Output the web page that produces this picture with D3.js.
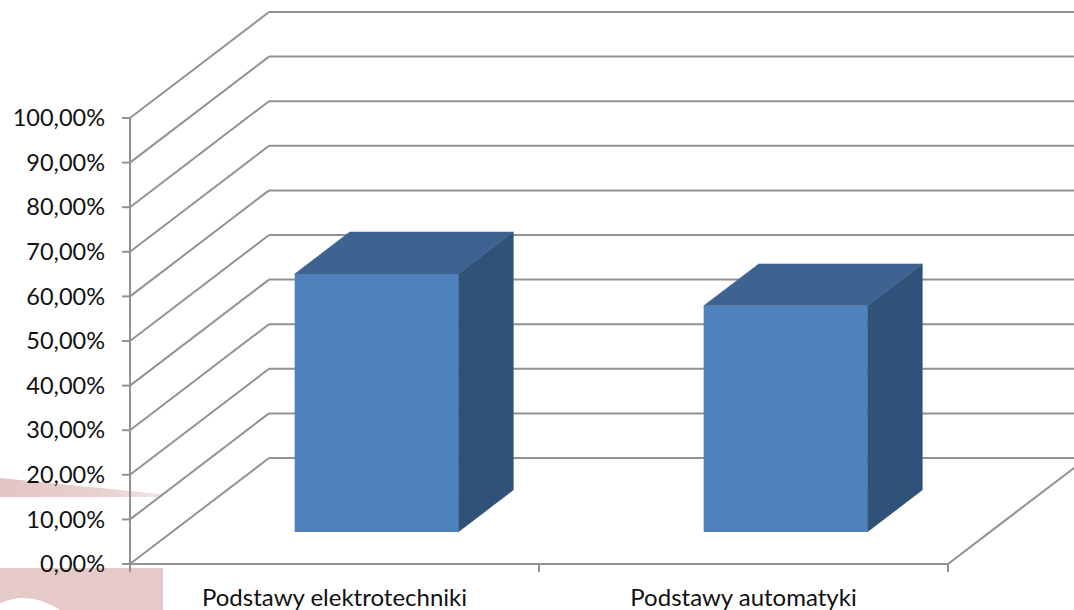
<!DOCTYPE html>
<html><head><meta charset="utf-8">
<script src="https://cdn.jsdelivr.net/npm/d3@7"></script>
<style>html,body{margin:0;background:#fff;overflow:hidden}svg{display:block}text{font-family:Lato,"Open Sans",sans-serif;fill:#111}</style>
</head><body><svg id="c" width="1074" height="610"></svg>
<script>
const categories = ["Podstawy elektrotechniki", "Podstawy automatyki"];
const values = [57.85, 50.7];
const yTicks = [0,10,20,30,40,50,60,70,80,90,100];
const yTickLabels = ["0,00%","10,00%","20,00%","30,00%","40,00%","50,00%","60,00%","70,00%","80,00%","90,00%","100,00%"];

const svg = d3.select("#c");
const grid = "#929292";
const x = d3.scaleBand().domain(categories).range([130,948]).paddingInner(0.6).paddingOuter(0.3);
const xEdge = d3.scaleLinear().domain([0,categories.length]).range([130,948]);
const y = d3.scaleLinear().domain([0,100]).range([564,118]);
const depth = {dx:139, dy:-106};
const dep = f => [depth.dx*f, depth.dy*f];
const barFront = 0.302, barBack = 0.698;

// faint background print behind the chart
const defs = svg.append("defs");
const lg = defs.append("linearGradient").attr("id","fade");
lg.append("stop").attr("offset","0").attr("stop-color","#e3c4c4");
lg.append("stop").attr("offset","0.7").attr("stop-color","#ead3d3");
lg.append("stop").attr("offset","1").attr("stop-color","#f3e6e6");
svg.append("path").attr("d","M0,478 L160,494 L163,497 L0,497 Z").attr("fill","url(#fade)");
svg.append("rect").attr("x",0).attr("y",568).attr("width",163).attr("height",42).attr("fill","#e6c9c9");
svg.append("path").attr("d","M0,610 L0,603 Q30,590 60,610 Z").attr("fill","#fff");

// walls
const g = svg.append("g").attr("fill","none").attr("stroke",grid).attr("stroke-width",2);
g.selectAll(".side").data(yTicks).join("line").attr("class","side")
  .attr("x1",130).attr("y1",d=>y(d)).attr("x2",130+depth.dx).attr("y2",d=>y(d)+depth.dy);
g.selectAll(".back").data(yTicks).join("line").attr("class","back")
  .attr("x1",130+depth.dx).attr("y1",d=>y(d)+depth.dy).attr("x2",948+depth.dx).attr("y2",d=>y(d)+depth.dy);
g.append("line").attr("x1",948).attr("y1",y(0)).attr("x2",948+depth.dx).attr("y2",y(0)+depth.dy);

// axes
g.append("line").attr("x1",130).attr("y1",y(100)).attr("x2",130).attr("y2",572);
g.append("line").attr("x1",130).attr("y1",y(0)).attr("x2",948).attr("y2",y(0));
g.selectAll(".yt").data(yTicks).join("line").attr("class","yt")
  .attr("x1",122).attr("x2",130).attr("y1",d=>y(d)).attr("y2",d=>y(d));
g.selectAll(".xt").data(d3.range(categories.length+1)).join("line").attr("class","xt")
  .attr("x1",d=>xEdge(d)).attr("x2",d=>xEdge(d)).attr("y1",564).attr("y2",572);

// bars
const [fx,fy] = dep(barFront), [bx,by] = dep(barBack);
const ox = bx-fx, oy = by-fy;
const bars = svg.selectAll(".bar").data(categories.map((c,i)=>({c,v:values[i]}))).join("g").attr("class","bar");
const L = d=>x(d.c)+fx, R = d=>x(d.c)+x.bandwidth()+fx, T = d=>y(d.v)+fy, B = ()=>y(0)+fy;
bars.append("path").attr("fill","#315278").attr("stroke","#315278").attr("stroke-width",.5)
  .attr("d",d=>`M${R(d)},${T(d)}L${R(d)+ox},${T(d)+oy}L${R(d)+ox},${B()+oy}L${R(d)},${B()}Z`);
bars.append("path").attr("fill","#3e6390").attr("stroke","#3e6390").attr("stroke-width",.5)
  .attr("d",d=>`M${L(d)},${T(d)}L${L(d)+ox},${T(d)+oy}L${R(d)+ox},${T(d)+oy}L${R(d)},${T(d)}Z`);
bars.append("rect").attr("fill","#4f81bd")
  .attr("x",L).attr("y",T).attr("width",x.bandwidth()).attr("height",d=>B()-T(d));

// labels
svg.selectAll(".yl").data(yTicks).join("text").attr("class","yl")
  .attr("x",105).attr("y",d=>y(d)).attr("dy","0.35em").attr("text-anchor","end")
  .attr("font-size",23.5).text((d,i)=>yTickLabels[i]);
svg.selectAll(".xl").data(categories).join("text").attr("class","xl")
  .attr("x",d=>x(d)+x.bandwidth()/2).attr("y",606).attr("text-anchor","middle")
  .attr("font-size",24).text(d=>d);
</script></body></html>
